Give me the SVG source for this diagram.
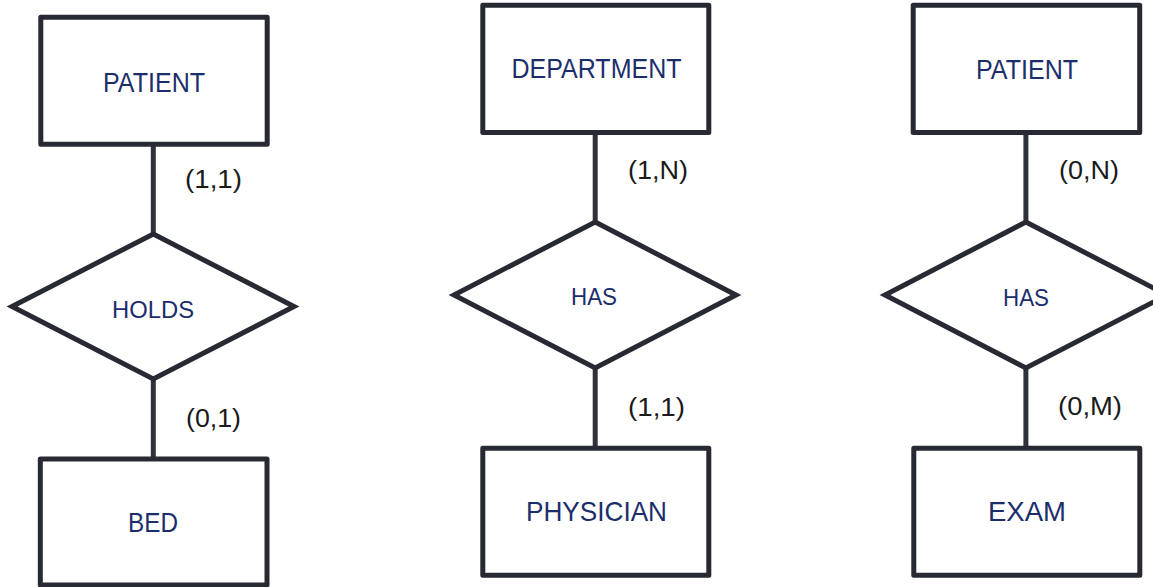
<svg xmlns="http://www.w3.org/2000/svg" width="1153" height="587" viewBox="0 0 1153 587">
  <style>
    .entity { fill: #ffffff; stroke: #272a33; stroke-width: 5; stroke-linejoin: round; }
    .rel { fill: #ffffff; stroke: #272a33; stroke-width: 5; stroke-linejoin: miter; }
    .link { stroke: #2f323b; stroke-width: 5; fill: none; }
    .name { font-family: "Liberation Sans", Arial, sans-serif; font-size: 28px; fill: #1b2e6c; text-anchor: middle; }
    .rname { font-family: "Liberation Sans", Arial, sans-serif; font-size: 24px; fill: #1b2e6c; text-anchor: middle; }
    .card { font-family: "Liberation Sans", Arial, sans-serif; font-size: 25px; fill: #1a1a1a; }
  </style>
  <rect width="1153" height="587" fill="#ffffff"/>

  <!-- connectors and their cardinalities -->
  <g id="connectors">
    <line class="link" x1="153.3" y1="144.5" x2="153.3" y2="234"/>
    <line class="link" x1="153.3" y1="379" x2="153.3" y2="459"/>
    <line class="link" x1="595.2" y1="132.5" x2="595.2" y2="222"/>
    <line class="link" x1="595.2" y1="368" x2="595.2" y2="448.3"/>
    <line class="link" x1="1025.9" y1="132.5" x2="1025.9" y2="222"/>
    <line class="link" x1="1025.9" y1="368" x2="1025.9" y2="448.3"/>
    <text class="card" x="185" y="188" textLength="57" lengthAdjust="spacingAndGlyphs">(1,1)</text>
    <text class="card" x="186" y="427" textLength="55" lengthAdjust="spacingAndGlyphs">(0,1)</text>
    <text class="card" x="628" y="178.5" textLength="60" lengthAdjust="spacingAndGlyphs">(1,N)</text>
    <text class="card" x="628" y="416" textLength="57" lengthAdjust="spacingAndGlyphs">(1,1)</text>
    <text class="card" x="1059" y="178.5" textLength="60" lengthAdjust="spacingAndGlyphs">(0,N)</text>
    <text class="card" x="1058" y="415" textLength="64" lengthAdjust="spacingAndGlyphs">(0,M)</text>
  </g>

  <!-- first relationship: PATIENT holds BED -->
  <g id="patient-1">
    <rect class="entity" x="40.8" y="17.2" width="226.4" height="127"/>
    <text class="name" x="154" y="91.5" textLength="102" lengthAdjust="spacingAndGlyphs">PATIENT</text>
  </g>
  <g id="holds">
    <polygon class="rel" points="153.3,234 294,306.5 153.3,379 12,306.5"/>
    <text class="rname" x="153" y="317.5" textLength="82" lengthAdjust="spacingAndGlyphs">HOLDS</text>
  </g>
  <g id="bed">
    <rect class="entity" x="40.3" y="459" width="226.7" height="126"/>
    <text class="name" x="153" y="532" textLength="50" lengthAdjust="spacingAndGlyphs">BED</text>
  </g>

  <!-- second relationship: DEPARTMENT has PHYSICIAN -->
  <g id="department">
    <rect class="entity" x="482.8" y="5.3" width="226" height="127.2"/>
    <text class="name" x="596.5" y="77.7" textLength="170" lengthAdjust="spacingAndGlyphs">DEPARTMENT</text>
  </g>
  <g id="has-1">
    <polygon class="rel" points="595.2,222 736,295 595.2,368 454,295"/>
    <text class="rname" x="594" y="305" textLength="46" lengthAdjust="spacingAndGlyphs">HAS</text>
  </g>
  <g id="physician">
    <rect class="entity" x="482.8" y="448.3" width="226" height="127"/>
    <text class="name" x="596.5" y="521" textLength="141" lengthAdjust="spacingAndGlyphs">PHYSICIAN</text>
  </g>

  <!-- third relationship: PATIENT has EXAM -->
  <g id="patient-2">
    <rect class="entity" x="913.2" y="5.3" width="226.5" height="127.2"/>
    <text class="name" x="1027" y="79.3" textLength="102" lengthAdjust="spacingAndGlyphs">PATIENT</text>
  </g>
  <g id="has-2">
    <polygon class="rel" points="1025.9,222 1167,295 1025.9,368 885,295"/>
    <text class="rname" x="1026" y="305.5" textLength="46" lengthAdjust="spacingAndGlyphs">HAS</text>
  </g>
  <g id="exam">
    <rect class="entity" x="913.8" y="448.3" width="226" height="127"/>
    <text class="name" x="1027" y="521" textLength="78" lengthAdjust="spacingAndGlyphs">EXAM</text>
  </g>
</svg>
